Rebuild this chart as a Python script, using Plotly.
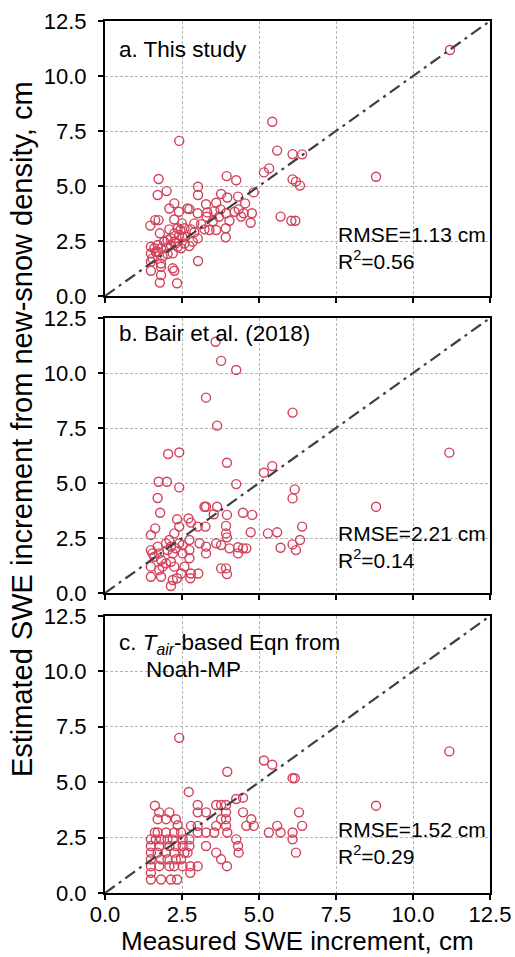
import plotly.graph_objects as go

# ---------------- data ----------------
# Panel a: This study
a_meas = [11.20, 5.43, 2.41, 5.59, 6.09, 6.40, 5.33, 5.16, 8.80, 3.95, 4.26, 1.74, 6.09, 6.20, 6.33,
          3.02, 3.02, 1.71, 2.00, 4.83, 3.77, 3.97, 4.32, 2.25, 3.28, 3.61, 2.09, 2.40, 2.68, 2.74,
          3.01, 3.32, 3.55, 3.75, 3.93, 4.21, 4.34, 4.55, 4.50, 4.77, 4.42, 4.73, 5.70, 6.05, 6.18,
          1.63, 1.74, 1.47, 1.78, 2.25, 2.36, 2.45, 2.58, 2.79, 2.90, 3.12, 3.23, 3.39, 3.61, 3.92,
          4.04, 3.92, 3.02, 1.49, 1.60, 1.71, 1.82, 1.92, 2.03, 2.14, 2.25, 2.36, 2.47, 2.58, 2.74,
          2.85, 3.01, 1.49, 1.71, 1.87, 2.03, 2.20, 1.49, 1.82, 1.49, 1.82, 1.82, 2.20, 2.25, 1.78,
          2.34, 2.25, 2.14, 2.41, 2.52, 1.54, 2.09, 2.30, 2.60, 3.30, 3.50, 2.00, 1.65, 2.50, 3.70,
          2.90]
a_est = [11.18, 7.92, 7.05, 6.61, 6.45, 6.44, 5.80, 5.62, 5.42, 5.45, 5.26, 5.32, 5.30, 5.20, 5.02,
         4.97, 4.59, 4.59, 4.77, 4.71, 4.64, 4.48, 4.52, 4.21, 4.17, 4.24, 3.98, 3.83, 3.98, 3.95,
         3.76, 3.80, 3.86, 3.94, 3.76, 3.83, 3.94, 4.21, 3.76, 3.76, 3.61, 3.33, 3.61, 3.42, 3.42,
         3.45, 3.45, 3.20, 2.85, 3.48, 3.08, 3.00, 3.08, 3.03, 3.30, 3.27, 3.03, 3.00, 3.00, 3.08,
         3.42, 2.67, 1.59, 2.24, 2.17, 2.32, 2.17, 2.47, 2.55, 2.32, 2.47, 2.24, 2.17, 2.39, 2.27,
         2.47, 2.62, 1.94, 2.02, 1.79, 1.91, 1.94, 1.56, 1.48, 1.15, 1.33, 0.95, 1.26, 1.15, 0.61,
         0.58, 2.85, 2.62, 2.77, 2.67, 1.71, 3.03, 2.40, 2.70, 3.60, 3.40, 2.20, 2.00, 3.30, 3.60,
         2.90]

# Panel b: Bair et al. (2018)
b_meas = [3.59, 3.77, 4.26, 3.28, 6.09, 3.64, 11.18, 2.05, 2.41, 3.96, 5.16, 5.43, 1.74, 2.01, 2.41,
          4.26, 6.16, 6.09, 1.71, 1.79, 8.80, 3.28, 3.23, 3.64, 3.53, 3.96, 4.48, 4.78, 2.34, 2.71,
          2.79, 3.01, 3.26, 1.63, 1.49, 2.25, 2.41, 3.93, 3.93, 3.96, 4.73, 5.29, 5.59, 6.40, 6.33,
          6.09, 6.20, 5.70, 4.32, 4.48, 4.59, 4.32, 4.04, 3.61, 3.77, 3.28, 3.28, 3.07, 2.74, 2.74,
          2.74, 2.52, 2.52, 1.49, 1.54, 1.60, 1.71, 1.76, 1.82, 1.87, 1.98, 2.03, 2.14, 2.20, 2.09,
          2.30, 2.41, 1.49, 1.49, 1.82, 1.76, 2.20, 2.14, 2.34, 2.47, 2.58, 2.79, 2.77, 3.03, 3.77,
          3.93, 3.96, 2.25, 2.14, 1.98]
b_est = [11.42, 10.55, 10.14, 8.88, 8.20, 7.61, 6.38, 6.32, 6.39, 5.92, 5.47, 5.77, 5.06, 5.06, 4.80,
         4.95, 4.71, 4.30, 4.32, 3.65, 3.92, 3.92, 3.92, 3.92, 3.58, 3.55, 3.65, 3.55, 3.35, 3.39,
         3.20, 3.02, 3.02, 2.94, 2.64, 2.71, 3.02, 3.05, 2.71, 2.53, 2.76, 2.71, 2.76, 3.02, 2.41,
         2.21, 1.95, 2.06, 2.08, 2.03, 2.03, 1.80, 2.03, 2.26, 2.18, 2.11, 1.80, 2.26, 2.41, 1.95,
         1.58, 2.18, 1.80, 1.95, 1.80, 1.65, 2.11, 1.80, 1.50, 1.20, 2.26, 1.95, 2.11, 1.80, 2.41,
         2.03, 2.26, 1.20, 0.74, 0.74, 1.05, 0.59, 0.32, 0.67, 0.89, 1.20, 0.89, 0.67, 0.89, 1.12,
         1.12, 0.86, 1.20, 1.42, 1.35]

# Panel c: Tair-based equation from Noah-MP
c_meas = [11.18, 2.41, 3.97, 5.16, 5.43, 6.09, 6.16, 2.72, 8.80, 6.30, 6.40, 5.32, 5.59, 5.70, 6.09,
          6.09, 6.20, 4.48, 4.26, 3.93, 3.77, 3.61, 3.01, 3.01, 3.28, 4.48, 4.75, 4.59, 4.83, 3.93,
          3.93, 3.93, 3.97, 3.77, 3.61, 3.55, 3.28, 3.28, 3.01, 3.01, 2.79, 4.26, 4.32, 4.34, 3.61,
          3.77, 3.96, 3.01, 2.77, 2.77, 1.62, 1.76, 2.09, 1.71, 1.98, 2.30, 2.36, 1.49, 1.49, 1.49,
          1.49, 1.49, 1.49, 1.49, 1.71, 1.82, 1.76, 1.71, 1.82, 1.76, 1.82, 1.98, 2.03, 2.09, 1.98,
          2.03, 2.09, 2.25, 2.20, 2.30, 2.25, 2.30, 2.25, 2.14, 2.34, 2.52, 2.52, 2.58, 2.47, 2.52,
          2.74, 2.74, 2.68, 2.47, 1.62, 1.65]
c_est = [6.39, 7.00, 5.47, 5.98, 5.79, 5.18, 5.18, 4.56, 3.94, 3.64, 3.03, 2.73, 3.03, 2.73, 2.73,
         2.42, 1.82, 4.30, 4.24, 3.97, 3.97, 3.97, 3.97, 3.64, 3.64, 3.64, 3.33, 3.03, 3.03, 3.64,
         3.33, 3.03, 2.73, 3.33, 3.03, 2.73, 2.73, 2.12, 3.03, 2.73, 3.03, 2.42, 2.12, 1.82, 1.82,
         1.52, 1.21, 1.21, 1.21, 0.91, 3.94, 3.64, 3.64, 3.33, 3.33, 3.33, 3.06, 2.42, 2.12, 1.82,
         1.52, 1.21, 0.91, 0.61, 2.73, 2.42, 2.12, 1.82, 1.52, 1.21, 0.61, 2.73, 2.42, 2.12, 1.82,
         1.52, 1.21, 2.73, 2.42, 2.12, 1.82, 1.52, 1.21, 0.61, 0.61, 2.42, 2.12, 1.82, 1.52, 1.21,
         2.42, 2.12, 1.82, 2.73, 2.73, 2.42]

panel_titles = ["a. This study", "b. Bair et al. (2018)"]
stats = [("1.13", "0.56"), ("2.21", "0.14"), ("1.52", "0.29")]
one_to_one = [0, 12.5]
tick_vals = [0, 2.5, 5.0, 7.5, 10.0, 12.5]

# ---------------- figure ----------------
FONT = "Liberation Sans, Arial, sans-serif"
MARK_COLOR = "#D2415A"

fig = go.Figure()
series = [(a_meas, a_est), (b_meas, b_est), (c_meas, c_est)]
for i, (xs, ys) in enumerate(series):
    ax = "" if i == 0 else str(i + 1)
    fig.add_trace(go.Scatter(
        x=xs, y=ys, mode="markers", xaxis="x" + ax, yaxis="y" + ax,
        marker=dict(symbol="circle-open", size=9, color=MARK_COLOR,
                    line=dict(width=1.4, color=MARK_COLOR)),
        showlegend=False, hoverinfo="skip"))
    fig.add_trace(go.Scatter(
        x=one_to_one, y=one_to_one, mode="lines", xaxis="x" + ax, yaxis="y" + ax,
        line=dict(color="#404040", width=2.2, dash="12px,5px,3px,5px"),
        showlegend=False, hoverinfo="skip"))

domains = [[0.6846, 1.0], [0.344, 0.6594], [0.0, 0.3177]]
axis_common = dict(
    range=[0, 12.5], tickvals=tick_vals, tickformat=".1f", automargin=False,
    showline=True, linecolor="black", linewidth=2, mirror=True,
    ticks="outside", ticklen=5, tickwidth=1.5, tickcolor="black",
    showgrid=True, gridcolor="#b5b5b5", gridwidth=0.8, griddash="3px,2px",
    zeroline=False, tickfont=dict(family=FONT, size=22, color="black"),
)
layout = dict(
    template="none",
    width=515, height=957,
    margin=dict(l=105, r=25, t=21, b=64, autoexpand=False),
    paper_bgcolor="white", plot_bgcolor="white",
    font=dict(family=FONT, color="black"),
)
for i in range(3):
    ax = "" if i == 0 else str(i + 1)
    layout["xaxis" + ax] = dict(axis_common, domain=[0, 1], anchor="y" + ax,
                                showticklabels=(i == 2), ticklabelstandoff=-4)
    layout["yaxis" + ax] = dict(axis_common, domain=domains[i], anchor="x" + ax,
                                ticklabelstandoff=7)
fig.update_layout(**layout)

ann = []
title_y = [0.895, 0.945]
for i, t in enumerate(panel_titles):
    ax = "" if i == 0 else str(i + 1)
    ann.append(dict(text=t, xref="x" + ax + " domain", yref="y" + ax + " domain",
                    x=0.031, y=title_y[i], xanchor="left", yanchor="middle",
                    showarrow=False, font=dict(size=22.5)))
ann.append(dict(text="c. <i>T</i><sub><i>air</i></sub>-based Eqn from",
                xref="x3 domain", yref="y3 domain", x=0.031, y=0.90,
                xanchor="left", yanchor="middle", showarrow=False, font=dict(size=22.5)))
ann.append(dict(text="Noah-MP", xref="x3 domain", yref="y3 domain", x=0.101, y=0.805,
                xanchor="left", yanchor="middle", showarrow=False, font=dict(size=22.5)))
stat_y = [0.173, 0.169, 0.179]
for i, (rmse, r2) in enumerate(stats):
    ax = "" if i == 0 else str(i + 1)
    ann.append(dict(text=f"RMSE={rmse} cm<br>R<sup>2</sup>={r2}",
                    xref="x" + ax + " domain", yref="y" + ax + " domain",
                    x=0.60, y=stat_y[i], xanchor="left", yanchor="middle", align="left",
                    showarrow=False, font=dict(size=21)))
ann.append(dict(text="Measured SWE increment, cm", xref="paper", yref="paper",
                x=0.499, y=-0.0545, xanchor="center", yanchor="middle",
                showarrow=False, font=dict(size=26)))
ann.append(dict(text="Estimated SWE increment from new-snow density, cm",
                xref="paper", yref="paper", x=-0.2156, y=0.532, textangle=-90,
                xanchor="center", yanchor="middle", showarrow=False, font=dict(size=29)))
fig.update_layout(annotations=ann)

fig.write_html("out.html", config={"displayModeBar": False},
               post_script="document.body.style.margin='0';document.body.style.overflow='hidden';")
